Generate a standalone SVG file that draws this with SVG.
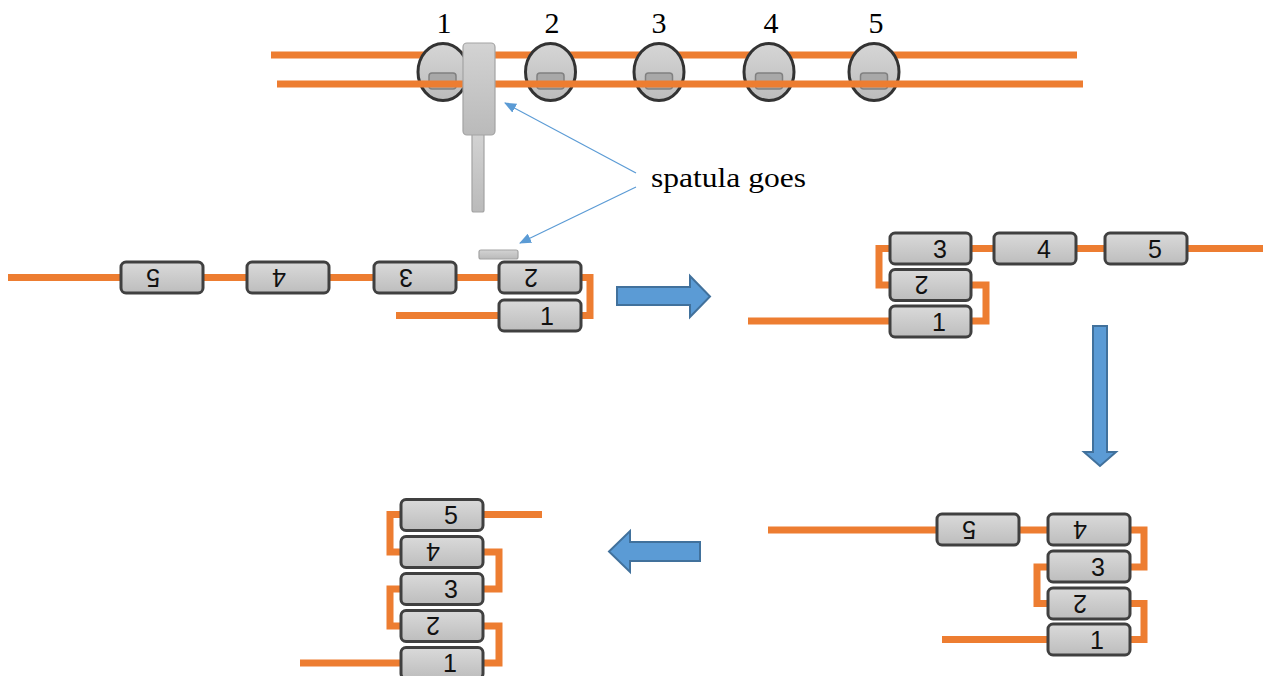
<svg xmlns="http://www.w3.org/2000/svg" width="1263" height="676" viewBox="0 0 1263 676">
  <defs>
    <linearGradient id="boxFill" x1="0" y1="0" x2="0" y2="1">
      <stop offset="0" stop-color="#dadada"/>
      <stop offset="1" stop-color="#bdbdbd"/>
    </linearGradient>
    <linearGradient id="discFill" x1="0" y1="0" x2="0" y2="1">
      <stop offset="0" stop-color="#d6d6d6"/>
      <stop offset="1" stop-color="#bcbcbc"/>
    </linearGradient>
    <linearGradient id="toolFill" x1="0" y1="0" x2="0" y2="1">
      <stop offset="0" stop-color="#d3d3d3"/>
      <stop offset="1" stop-color="#bababa"/>
    </linearGradient>
    <marker id="tip" viewBox="0 0 12 10" refX="11" refY="5" markerWidth="12" markerHeight="10" markerUnits="userSpaceOnUse" orient="auto">
      <path d="M0,0 L12,5 L0,10 Z" fill="#5b9bd5"/>
    </marker>
  </defs>
  <style>
    .wire { fill: none; stroke: #ed7d31; stroke-width: 7; }
    .box { fill: url(#boxFill); stroke: #404040; stroke-width: 3; }
    .lbl { font-family: "Liberation Sans", "DejaVu Sans", sans-serif; font-size: 25px; fill: #111; text-anchor: middle; }
    .num { font-family: "Liberation Serif", "DejaVu Serif", serif; font-size: 30px; fill: #000; text-anchor: middle; }
    .note { font-family: "Liberation Serif", "DejaVu Serif", serif; font-size: 28px; fill: #000; }
    .disc { fill: url(#discFill); stroke: #333; stroke-width: 3; }
    .slot { fill: #a8a8a8; stroke: #808080; stroke-width: 1.5; }
    .tool { fill: url(#toolFill); stroke: #a3a3a3; stroke-width: 1.2; }
    .bigArrow { fill: #5b9bd5; stroke: #41719c; stroke-width: 2; }
    .callout { stroke: #5b9bd5; stroke-width: 1.2; fill: none; marker-end: url(#tip); }
  </style>

  <!-- starting strand: beads on a doubled line, with the spatula in front -->
  <g id="strand-start">
    <line class="wire" x1="271" y1="55" x2="1077" y2="55"/>
    <g id="disc-1"><ellipse class="disc" cx="443" cy="72" rx="25" ry="28.5"/><rect class="slot" x="429" y="73" width="27" height="16" rx="3"/></g>
    <g id="disc-2"><ellipse class="disc" cx="550.5" cy="72" rx="25" ry="28.5"/><rect class="slot" x="537" y="73" width="27" height="16" rx="3"/></g>
    <g id="disc-3"><ellipse class="disc" cx="659" cy="72" rx="25" ry="28.5"/><rect class="slot" x="645.5" y="73" width="27" height="16" rx="3"/></g>
    <g id="disc-4"><ellipse class="disc" cx="769" cy="72" rx="25" ry="28.5"/><rect class="slot" x="755.5" y="73" width="27" height="16" rx="3"/></g>
    <g id="disc-5"><ellipse class="disc" cx="874" cy="72" rx="25" ry="28.5"/><rect class="slot" x="860.5" y="73" width="27" height="16" rx="3"/></g>
    <line class="wire" x1="277" y1="84" x2="1083" y2="84"/>
    <text class="num" x="444" y="33">1</text>
    <text class="num" x="552" y="33">2</text>
    <text class="num" x="659" y="33">3</text>
    <text class="num" x="771" y="33">4</text>
    <text class="num" x="876" y="33">5</text>
  </g>

  <g id="spatula">
    <rect class="tool" x="472" y="132" width="12" height="80" rx="2"/>
    <rect class="tool" x="463" y="43" width="32" height="92" rx="4"/>
  </g>
  <g id="spatula-edge">
    <rect class="tool" x="479" y="250" width="39" height="9" rx="2"/>
  </g>

  <g id="note">
    <text class="note" x="651" y="187" textLength="155" lengthAdjust="spacingAndGlyphs">spatula goes</text>
  </g>

  <!-- orange strand segments and fold brackets -->
  <g id="connectors">
    <!-- stage 1 -->
    <path class="wire" d="M8,277.5 H499"/>
    <path class="wire" d="M581,277.5 H590 V315.5 H581"/>
    <path class="wire" d="M396,315.5 H499"/>
    <!-- stage 2 -->
    <path class="wire" d="M971,248.5 H1263"/>
    <path class="wire" d="M890,248.5 H879 V285 H890"/>
    <path class="wire" d="M971,285 H986 V321 H971"/>
    <path class="wire" d="M748,321 H890"/>
    <!-- stage 3 -->
    <path class="wire" d="M768,530 H1048"/>
    <path class="wire" d="M1130,530 H1144 V567 H1130"/>
    <path class="wire" d="M1048,567 H1037 V603.5 H1048"/>
    <path class="wire" d="M1130,603.5 H1144 V639.5 H1130"/>
    <path class="wire" d="M942,639.5 H1048"/>
    <!-- stage 4 -->
    <path class="wire" d="M483,514.5 H542"/>
    <path class="wire" d="M401,514.5 H390 V552 H401"/>
    <path class="wire" d="M483,552 H499 V589 H483"/>
    <path class="wire" d="M401,589 H390 V626 H401"/>
    <path class="wire" d="M483,626 H499 V663 H483"/>
    <path class="wire" d="M300,663 H401"/>
    <!-- callout pointers -->
    <line class="callout" x1="636" y1="173" x2="505" y2="103"/>
    <line class="callout" x1="636" y1="187" x2="520" y2="243"/>
    <!-- step arrows -->
    <polygon class="bigArrow" points="617,287 690,287 690,276 710,296.5 690,317 690,305 617,305"/>
    <polygon class="bigArrow" points="1093,326 1107,326 1107,452 1116,452 1100,466 1084,452 1093,452"/>
    <polygon class="bigArrow" points="700,542 630,542 630,531 609,551.5 630,572 630,561 700,561"/>
  </g>

  <!-- stage 1 beads -->
  <g id="s1-b5"><rect class="box" x="121" y="262" width="82" height="31" rx="5"/><text class="lbl" x="171" y="286.5" transform="rotate(180 162 277.5)">5</text></g>
  <g id="s1-b4"><rect class="box" x="247" y="262" width="82" height="31" rx="5"/><text class="lbl" x="297" y="286.5" transform="rotate(180 288 277.5)">4</text></g>
  <g id="s1-b3"><rect class="box" x="374" y="262" width="82" height="31" rx="5"/><text class="lbl" x="424" y="286.5" transform="rotate(180 415 277.5)">3</text></g>
  <g id="s1-b2"><rect class="box" x="499" y="262" width="82" height="31" rx="5"/><text class="lbl" x="549" y="286.5" transform="rotate(180 540 277.5)">2</text></g>
  <g id="s1-b1"><rect class="box" x="499" y="300" width="82" height="31" rx="5"/><text class="lbl" x="547" y="324.5">1</text></g>

  <!-- stage 2 beads -->
  <g id="s2-b3"><rect class="box" x="890" y="233" width="81" height="31" rx="5"/><text class="lbl" x="940" y="257.5">3</text></g>
  <g id="s2-b4"><rect class="box" x="994" y="233" width="82" height="31" rx="5"/><text class="lbl" x="1044" y="257.5">4</text></g>
  <g id="s2-b5"><rect class="box" x="1105" y="233" width="82" height="31" rx="5"/><text class="lbl" x="1155" y="257.5">5</text></g>
  <g id="s2-b2"><rect class="box" x="890" y="269.5" width="81" height="31" rx="5"/><text class="lbl" x="939.5" y="294" transform="rotate(180 930.5 285)">2</text></g>
  <g id="s2-b1"><rect class="box" x="890" y="306" width="81" height="31" rx="5"/><text class="lbl" x="939" y="330.5">1</text></g>

  <!-- stage 3 beads -->
  <g id="s3-b5"><rect class="box" x="937" y="514" width="82" height="31" rx="5"/><text class="lbl" x="987" y="538.5" transform="rotate(180 978 529.5)">5</text></g>
  <g id="s3-b4"><rect class="box" x="1048" y="514" width="82" height="31" rx="5"/><text class="lbl" x="1098" y="538.5" transform="rotate(180 1089 529.5)">4</text></g>
  <g id="s3-b3"><rect class="box" x="1048" y="551" width="82" height="31" rx="5"/><text class="lbl" x="1098" y="575.5">3</text></g>
  <g id="s3-b2"><rect class="box" x="1048" y="588" width="82" height="31" rx="5"/><text class="lbl" x="1098" y="612.5" transform="rotate(180 1089 603.5)">2</text></g>
  <g id="s3-b1"><rect class="box" x="1048" y="624" width="82" height="31" rx="5"/><text class="lbl" x="1097" y="648.5">1</text></g>

  <!-- stage 4 beads -->
  <g id="s4-b5"><rect class="box" x="401" y="499.5" width="82" height="31" rx="5"/><text class="lbl" x="451" y="524">5</text></g>
  <g id="s4-b4"><rect class="box" x="401" y="536.5" width="82" height="31" rx="5"/><text class="lbl" x="451" y="561" transform="rotate(180 442 552)">4</text></g>
  <g id="s4-b3"><rect class="box" x="401" y="573.5" width="82" height="31" rx="5"/><text class="lbl" x="451" y="598">3</text></g>
  <g id="s4-b2"><rect class="box" x="401" y="610.5" width="82" height="31" rx="5"/><text class="lbl" x="451" y="635" transform="rotate(180 442 626)">2</text></g>
  <g id="s4-b1"><rect class="box" x="401" y="647.5" width="82" height="31" rx="5"/><text class="lbl" x="450" y="672">1</text></g>
</svg>
